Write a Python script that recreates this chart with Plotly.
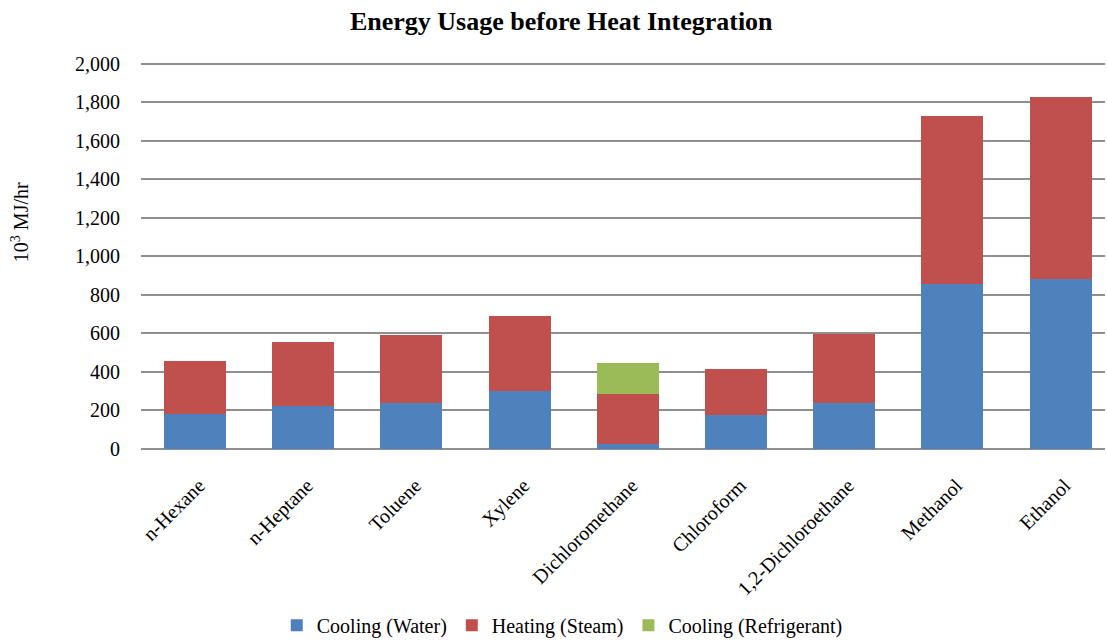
import plotly.graph_objects as go

# Solvent recovery cases and their utility loads (10^3 MJ/hr)
solvents = ["n-Hexane", "n-Heptane", "Toluene", "Xylene", "Dichloromethane",
            "Chloroform", "1,2-Dichloroethane", "Methanol", "Ethanol"]
cooling_water = [182, 222, 241, 302, 24, 177, 241, 856, 881]
heating_steam = [274, 336, 349, 390, 260, 241, 357, 871, 949]
cooling_refrigerant = [0, 0, 0, 0, 165, 0, 0, 0, 0]

y_ticks = [0, 200, 400, 600, 800, 1000, 1200, 1400, 1600, 1800, 2000]

FONT = "Liberation Serif, Times New Roman, serif"

fig = go.Figure()
fig.add_trace(go.Bar(name="Cooling (Water)", x=solvents, y=cooling_water,
                     marker=dict(color="#4F81BD", line=dict(width=0))))
fig.add_trace(go.Bar(name="Heating (Steam)", x=solvents, y=heating_steam,
                     marker=dict(color="#C0504D", line=dict(width=0))))
fig.add_trace(go.Bar(name="Cooling (Refrigerant)", x=solvents, y=cooling_refrigerant,
                     marker=dict(color="#9BBB59", line=dict(width=0))))

fig.update_layout(
    width=1107, height=641,
    barmode="stack", bargap=0.427,
    paper_bgcolor="white", plot_bgcolor="white",
    margin=dict(l=141, r=2, t=62.1, b=191.5, autoexpand=False),
    font=dict(family=FONT, size=20, color="black"),
    title=dict(text="<b>Energy Usage before Heat Integration</b>",
               x=0.507, xanchor="center", y=1 - 21 / 641, yanchor="middle",
               yref="container", font=dict(family=FONT, size=26, color="black")),
    showlegend=True,
    legend=dict(orientation="h", x=0.437, xanchor="center", y=-0.4556, yanchor="middle",
                font=dict(family=FONT, size=20), itemwidth=30, traceorder="normal",
                tracegroupgap=0),
    annotations=[dict(text="10<sup>3</sup> MJ/hr", xref="paper", yref="paper",
                      x=-0.126, y=0.585, xanchor="center", yanchor="middle",
                      textangle=-90, showarrow=False,
                      font=dict(family=FONT, size=20))],
)

fig.update_xaxes(range=[-0.5, 8.41], tickangle=-45, automargin=False,
                 showline=False, ticks="",
                 ticklabelstandoff=20, ticklabelshift=4,
                 tickfont=dict(family=FONT, size=20))
fig.update_yaxes(range=[0, 2010], tickvals=y_ticks, tickformat=",d",
                 showgrid=True, gridcolor="#8f8f8f", gridwidth=2,
                 zeroline=True, zerolinecolor="#8f8f8f", zerolinewidth=2,
                 ticks="", ticklabelstandoff=20,
                 automargin=False, tickfont=dict(family=FONT, size=20))

fig.write_html("out.html")
